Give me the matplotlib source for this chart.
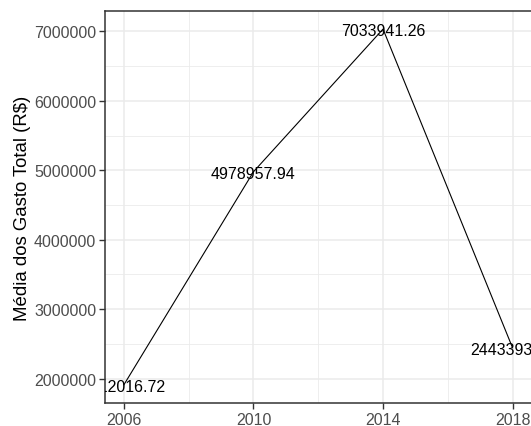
import matplotlib
matplotlib.use("Agg")
import matplotlib.pyplot as plt
from matplotlib.ticker import FixedLocator, MultipleLocator, FuncFormatter

years = [2006, 2010, 2014, 2018]
values = [1912016.72, 4978957.94, 7033941.26, 2443393.51]
labels = ["1912016.72", "4978957.94", "7033941.26", "2443393.51"]
ylabel = "Média dos Gasto Total (R$)"

plt.rcParams['font.family'] = ['Liberation Sans', 'DejaVu Sans']

W, H = 531, 427
fig = plt.figure(figsize=(W / 100, H / 100), dpi=100)
left, right = 104.5 / W, 532.0 / W
bottom, top = (H - 403.5) / H, (H - 12.3) / H
ax = fig.add_axes([left, bottom, right - left, top - bottom])

ax.plot(years, values, color='black', linewidth=0.8, zorder=3)
for x, y, t in zip(years, values, labels):
    ax.annotate(t, (x, y), xytext=(0, -1.5), textcoords='offset pixels',
                ha='center', va='center', fontsize=11.5, color='black',
                annotation_clip=False, clip_on=True, zorder=4)

span_x = max(years) - min(years)
ax.set_xlim(min(years) - 0.05 * span_x, max(years) + 0.05 * span_x)
span_y = max(values) - min(values)
ax.set_ylim(min(values) - 0.05 * span_y, max(values) + 0.05 * span_y)

ax.xaxis.set_major_locator(FixedLocator(years))
ax.xaxis.set_minor_locator(FixedLocator([(a + b) / 2 for a, b in zip(years[:-1], years[1:])]))
ax.yaxis.set_major_locator(MultipleLocator(1000000))
ax.yaxis.set_minor_locator(MultipleLocator(500000))
ax.xaxis.set_major_formatter(FuncFormatter(lambda v, p: f"{int(round(v))}"))
ax.yaxis.set_major_formatter(FuncFormatter(lambda v, p: f"{int(round(v))}"))

ax.grid(which='major', color='#EBEBEB', linewidth=1.1, zorder=0)
ax.grid(which='minor', color='#EBEBEB', linewidth=0.6, zorder=0)
ax.set_axisbelow(True)

for s in ax.spines.values():
    s.set_color('#333333')
    s.set_linewidth(1.1)

ax.tick_params(which='major', length=4, width=1.0, color='#333333',
               labelsize=11.5, labelcolor='#4D4D4D', pad=2)
ax.tick_params(axis='x', which='major', pad=2.5)
ax.tick_params(which='minor', length=0)

ax.set_ylabel(ylabel, fontsize=13.4, color='black', labelpad=2)

fig.savefig("out.png", dpi=100)
